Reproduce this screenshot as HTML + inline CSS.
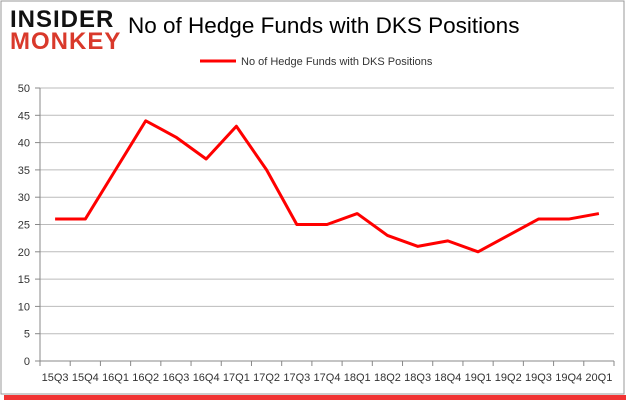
<!DOCTYPE html>
<html><head><meta charset="utf-8"><style>
body{margin:0;background:#fff;font-family:"Liberation Sans",sans-serif;}
#wrap{position:relative;width:635px;height:405px;overflow:hidden;}
</style></head><body>
<div id="wrap">
<svg id="chart" width="635" height="405">
<rect x="4" y="395" width="622" height="5" fill="#e00" opacity="0.8"/>
<rect x="1" y="1" width="623" height="393" fill="#fff" stroke="#999"/>
<text x="10" y="27" font-size="24" font-weight="bold" fill="#111" font-family="Liberation Sans, sans-serif" letter-spacing="1">INSIDER</text>
<text x="10" y="49" font-size="24" font-weight="bold" fill="#d9392b" letter-spacing="1">MONKEY</text>
<text x="128" y="33" font-size="22.5" fill="#000">No of Hedge Funds with DKS Positions</text>
<line x1="200" y1="61" x2="236" y2="61" stroke="#f00" stroke-width="3"/>
<text x="241" y="65" font-size="11" fill="#333">No of Hedge Funds with DKS Positions</text>
<g id="grid"></g><g id="axes"></g><g id="series"></g>
</svg>
</div>
<script>
const categories=["15Q3","15Q4","16Q1","16Q2","16Q3","16Q4","17Q1","17Q2","17Q3","17Q4","18Q1","18Q2","18Q3","18Q4","19Q1","19Q2","19Q3","19Q4","20Q1"];
const values=[26,26,35,44,41,37,43,35,25,25,27,23,21,22,20,23,26,26,27];
const yTicks=[0,5,10,15,20,25,30,35,40,45,50];
const NS="http://www.w3.org/2000/svg";
const L=40,R=614,T=88,B=361,YMAX=50;
const band=(R-L)/categories.length;
const x=i=>L+band*(i+0.5);
const y=v=>B-(B-T)*v/YMAX;
function mk(tag,attrs,parent){const e=document.createElementNS(NS,tag);for(const k in attrs)e.setAttribute(k,attrs[k]);document.getElementById(parent).appendChild(e);return e;}
yTicks.forEach(t=>{
 const g=mk("line",{x1:L,x2:R,y1:y(t),y2:y(t),stroke:t===0?"#888":"#bbb","stroke-width":1},"grid");
 
 
 const tk=mk("line",{x1:L-5,x2:L,y1:y(t),y2:y(t),stroke:"#888"},"axes");
 
 
 const lb=mk("text",{x:L-10,y:y(t)+4,"font-size":11,fill:"#333","text-anchor":"end"},"axes");
 lb.textContent=t;
 
 
});
const ya=mk("line",{x1:L,x2:L,y1:T,y2:B,stroke:"#888"},"axes");


for(let i=0;i<=categories.length;i++){
 const tk=mk("line",{x1:L+band*i,x2:L+band*i,y1:B,y2:B+5,stroke:"#888"},"axes");
 
 
}
categories.forEach((c,i)=>{
 const lb=mk("text",{x:x(i),y:B+20,"font-size":11,fill:"#333","text-anchor":"middle"},"axes");
 lb.textContent=c;
 
 
});
const line=mk("polyline",{points:values.map((v,i)=>x(i)+","+y(v)).join(" "),fill:"none",stroke:"#f00","stroke-width":3,"stroke-linejoin":"round"},"series");


</script>
</body></html>
